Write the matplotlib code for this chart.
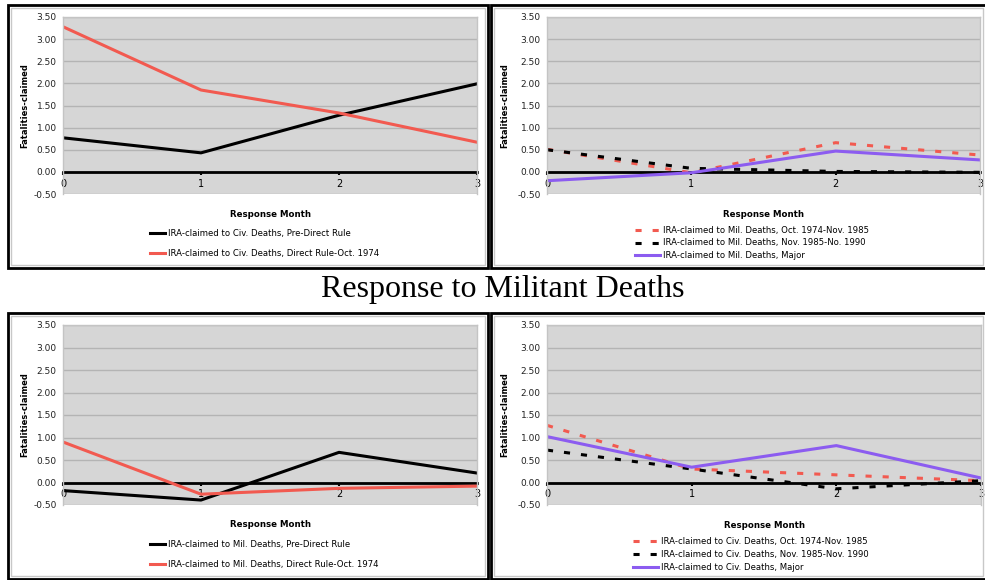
import numpy as np
from matplotlib import pyplot as plt
from matplotlib.patches import Rectangle

plt.rcParams['font.family'] = ['DejaVu Sans']

# 数据
months = [0, 1, 2, 3]

# 上左：对平民死亡的反应
civ_pre = [0.77, 0.43, 1.28, 1.99]
civ_direct = [3.28, 1.85, 1.33, 0.67]

# 上右：对军方死亡的反应
mil_74_85 = [0.51, -0.02, 0.66, 0.38]
mil_85_90 = [0.50, 0.08, 0.01, -0.01]
mil_major = [-0.20, -0.02, 0.47, 0.27]

# 下左：对武装分子死亡的反应
mil_pre = [-0.18, -0.39, 0.67, 0.21]
mil_direct = [0.90, -0.26, -0.13, -0.08]

# 下右
civ_74_85 = [1.27, 0.30, 0.17, 0.04]
civ_85_90 = [0.72, 0.30, -0.14, 0.04]
civ_major = [1.02, 0.34, 0.82, 0.10]

yticks = [-0.5, 0, 0.5, 1.0, 1.5, 2.0, 2.5, 3.0, 3.5]

W, H = 985, 580
fig = plt.figure(figsize=(W / 100, H / 100), dpi=100)

RED = '#f25a50'
PURPLE = '#8c5cf0'
DASH = (0, (2.0, 3.6))


def frame(x0, x1, y0, y1):
    fig.patches.append(Rectangle((x0 / W, 1 - y1 / H), (x1 - x0) / W, (y1 - y0) / H,
                                 transform=fig.transFigure, fill=False,
                                 edgecolor='black', lw=2))
    fig.patches.append(Rectangle(((x0 + 3) / W, 1 - (y1 - 3) / H), (x1 - x0 - 6) / W,
                                 (y1 - y0 - 6) / H, transform=fig.transFigure,
                                 fill=False, edgecolor='#c8c8c8', lw=1))


def panel(x0, x1, ytop, ybot, lab_x, xlab_y):
    ax = fig.add_axes([x0 / W, 1 - ybot / H, (x1 - x0) / W, (ybot - ytop) / H])
    ax.set_facecolor('#d6d6d6')
    ax.set_xlim(0, 3)
    ax.set_ylim(-0.5, 3.5)
    ax.set_yticks(yticks)
    ax.set_yticklabels(['%.2f' % v for v in yticks])
    ax.set_xticks(months)
    ax.set_xticklabels([str(m) for m in months], fontweight='bold')
    ax.grid(axis='y', color='#b4b4b4', lw=1)
    ax.set_axisbelow(True)
    ax.tick_params(axis='y', length=0, pad=4.5, labelsize=6.5, labelcolor='#222222')
    ax.tick_params(axis='x', length=2.5, width=1.5, pad=2.5, labelsize=7, direction='out')
    for s in ['left', 'right', 'top']:
        ax.spines[s].set_color('#c4c4c4')
        ax.spines[s].set_linewidth(1)
    ax.spines['bottom'].set_position(('data', 0))
    ax.spines['bottom'].set_linewidth(2)
    ax.spines['bottom'].set_zorder(1.5)
    ax.set_ylabel('Fatalities-claimed', fontsize=6.0, fontweight='bold')
    ax.yaxis.set_label_coords((lab_x - x0) / (x1 - x0), 0.5)
    ax.set_xlabel('Response Month', fontsize=6.2, fontweight='bold')
    ax.xaxis.set_label_coords(0.5, (ybot - xlab_y) / (ybot - ytop))
    return ax


def legend(ax, hx, yc, hlen, spacing):
    ax.legend(loc='center left', bbox_to_anchor=(hx / W, 1 - yc / H),
              bbox_transform=fig.transFigure, frameon=False, fontsize=6.1,
              borderpad=0, borderaxespad=0, handlelength=hlen,
              handletextpad=0.35, labelspacing=spacing)


frame(8, 488, 5, 268)
frame(491, 986, 5, 268)
frame(8, 488, 313, 579)
frame(491, 986, 313, 579)

# 上左
ax1 = panel(63, 477, 17, 194, 29, 210)
ax1.plot(months, civ_pre, color='black', lw=2.2,
         label='IRA-claimed to Civ. Deaths, Pre-Direct Rule')
ax1.plot(months, civ_direct, color=RED, lw=2.2,
         label='IRA-claimed to Civ. Deaths, Direct Rule-Oct. 1974')
legend(ax1, 150, 243.5, 1.8, 1.35)

# 上右
ax2 = panel(547, 980, 17, 194, 509, 210)
ax2.plot(months, mil_74_85, color=RED, lw=2.2, ls=DASH,
         label='IRA-claimed to Mil. Deaths, Oct. 1974-Nov. 1985')
ax2.plot(months, mil_85_90, color='black', lw=2.2, ls=DASH,
         label='IRA-claimed to Mil. Deaths, Nov. 1985-No. 1990')
ax2.plot(months, mil_major, color=PURPLE, lw=2.2,
         label='IRA-claimed to Mil. Deaths, Major')
legend(ax2, 635, 243, 2.9, 0.42)

# 下左
ax3 = panel(63, 477, 325, 505, 29, 520)
ax3.plot(months, mil_pre, color='black', lw=2.2,
         label='IRA-claimed to Mil. Deaths, Pre-Direct Rule')
ax3.plot(months, mil_direct, color=RED, lw=2.2,
         label='IRA-claimed to Mil. Deaths, Direct Rule-Oct. 1974')
legend(ax3, 150, 554.7, 1.8, 1.35)

# 下右
ax4 = panel(547, 981, 325, 505, 509, 521)
ax4.plot(months, civ_74_85, color=RED, lw=2.2, ls=DASH,
         label='IRA-claimed to Civ. Deaths, Oct. 1974-Nov. 1985')
ax4.plot(months, civ_85_90, color='black', lw=2.2, ls=DASH,
         label='IRA-claimed to Civ. Deaths, Nov. 1985-Nov. 1990')
ax4.plot(months, civ_major, color=PURPLE, lw=2.2,
         label='IRA-claimed to Civ. Deaths, Major')
legend(ax4, 633, 554.5, 2.9, 0.42)

fig.text(503 / W, 1 - 290 / H, 'Response to Militant Deaths', family='Liberation Serif',
         fontsize=23, ha='center', va='center')

fig.savefig('out.png', dpi=100)
